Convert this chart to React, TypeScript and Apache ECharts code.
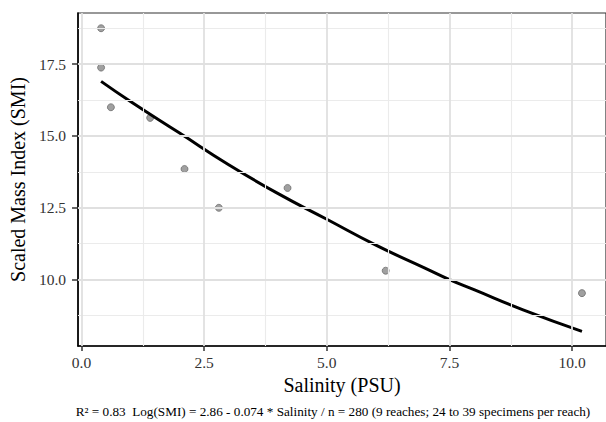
import React, { useEffect, useRef } from "react";
import * as echarts from "echarts";

// Observed reach means
const salinity = [0.4, 0.4, 0.6, 1.4, 2.1, 2.8, 4.2, 6.2, 10.2];
const smi = [18.75, 17.38, 16.0, 15.63, 13.85, 12.5, 13.19, 10.31, 9.53];

// Fitted curve
const fitX = [0.4, 1, 2, 3, 4, 5, 6, 7, 7.5, 8, 9, 10.2];
const fitY = [16.9, 16.2, 15.1, 14.0, 13.0, 12.1, 11.2, 10.4, 10.0, 9.65, 8.95, 8.2];

// Tick labels / gridlines
const xMajor = [0, 2.5, 5, 7.5, 10];
const xMinor = [1.25, 3.75, 6.25, 8.75];
const yMajor = [10, 12.5, 15, 17.5];
const yMinor = [8.75, 11.25, 13.75, 16.25, 18.75];

const xTitle = "Salinity (PSU)";
const yTitle = "Scaled Mass Index (SMI)";
const caption =
  "R\u00B2 = 0.83  Log(SMI) = 2.86 - 0.074 * Salinity / n = 280 (9 reaches; 24 to 39 specimens per reach)";

const FONT = "'Liberation Serif', 'Times New Roman', serif";

export default function App() {
  const ref = useRef<HTMLDivElement>(null);
  useEffect(() => {
    if (!ref.current) return;
    const chart = echarts.init(ref.current, undefined, { renderer: "svg" });
    const major = { type: "solid", width: 1.8, color: "#e0e0e0" };
    const minor = { type: "solid", width: 1.1, color: "#ebebeb" };
    const gridLines = [
      ...xMinor.map((v) => ({ xAxis: v, lineStyle: minor })),
      ...yMinor.map((v) => ({ yAxis: v, lineStyle: minor })),
      ...xMajor.map((v) => ({ xAxis: v, lineStyle: major })),
      ...yMajor.map((v) => ({ yAxis: v, lineStyle: major })),
    ];
    chart.setOption({
      animation: false,
      textStyle: { fontFamily: FONT },
      grid: {
        left: 76,
        top: 13,
        width: 533,
        height: 333,
        show: true,
        borderColor: "#333333",
        borderWidth: 1.2,
        backgroundColor: "#ffffff",
      },
      xAxis: {
        type: "value",
        min: -0.07,
        max: 10.69,
        name: xTitle,
        nameLocation: "middle",
        nameGap: 28,
        nameTextStyle: { fontSize: 20, color: "#000", fontFamily: FONT },
        axisLine: { show: true, onZero: false, lineStyle: { color: "#000", width: 1.6 } },
        axisTick: { show: true, length: 5, lineStyle: { color: "#333", width: 1.5 }, customValues: xMajor },
        axisLabel: {
          customValues: xMajor,
          formatter: (v: number) => v.toFixed(1),
          fontSize: 15.5,
          color: "#333",
          margin: 8,
          fontFamily: FONT,
        },
        splitLine: { show: false },
      },
      yAxis: {
        type: "value",
        min: 7.69,
        max: 19.28,
        name: yTitle,
        nameLocation: "middle",
        nameGap: 49,
        nameTextStyle: { fontSize: 20, color: "#000", fontFamily: FONT },
        axisLine: { show: true, onZero: false, lineStyle: { color: "#000", width: 1.6 } },
        axisTick: { show: true, length: 6, lineStyle: { color: "#333", width: 1.5 }, customValues: yMajor },
        axisLabel: {
          customValues: yMajor,
          formatter: (v: number) => v.toFixed(1),
          fontSize: 15.5,
          color: "#333",
          margin: 12,
          fontFamily: FONT,
        },
        splitLine: { show: false },
      },
      graphic: [
        {
          type: "text",
          x: 333,
          y: 411,
          style: {
            text: caption,
            fontSize: 13.2,
            fontFamily: FONT,
            fill: "#000",
            align: "center",
            verticalAlign: "middle",
          },
        },
      ],
      series: [
        {
          type: "line",
          data: [],
          silent: true,
          z: 1,
          markLine: {
            silent: true,
            symbol: ["none", "none"],
            label: { show: false },
            lineStyle: { type: "solid" },
            data: gridLines,
          },
        },
        {
          type: "scatter",
          data: salinity.map((x, i) => [x, smi[i]]),
          symbolSize: 7,
          z: 3,
          itemStyle: { color: "#888888", borderColor: "#5a5a5a", borderWidth: 0.8 },
        },
        {
          type: "line",
          data: fitX.map((x, i) => [x, fitY[i]]),
          smooth: true,
          symbol: "none",
          z: 4,
          lineStyle: { color: "#000", width: 3 },
        },
      ],
    });
    return () => chart.dispose();
  }, []);
  return <div ref={ref} style={{ width: 606, height: 422, position: "absolute", left: 0, top: 0 }} />;
}
